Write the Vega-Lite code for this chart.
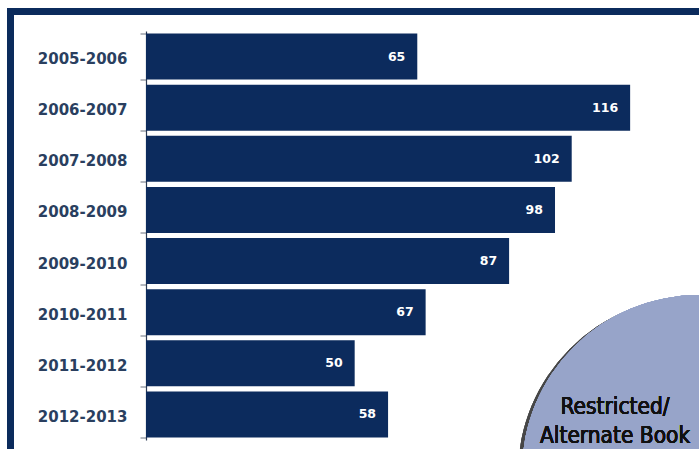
{
  "$schema": "https://vega.github.io/schema/vega-lite/v6.json",
  "width": 710,
  "height": 460,
  "autosize": {"type": "none"},
  "padding": {"left": 10.5, "top": 11.5, "right": 0, "bottom": 0},
  "background": "white",
  "config": {"view": {"stroke": "#0b2b5c", "strokeWidth": 7, "fill": "white"}},
  "data": {
    "values": [
      {"season": "2005-2006", "count": 65},
      {"season": "2006-2007", "count": 116},
      {"season": "2007-2008", "count": 102},
      {"season": "2008-2009", "count": 98},
      {"season": "2009-2010", "count": 87},
      {"season": "2010-2011", "count": 67},
      {"season": "2011-2012", "count": 50},
      {"season": "2012-2013", "count": 58}
    ]
  },
  "encoding": {
    "y": {
      "field": "season",
      "type": "nominal",
      "sort": null,
      "scale": {"range": [19.5, 428.5], "paddingInner": 0.1, "paddingOuter": 0.05},
      "axis": {
        "title": null,
        "offset": -135.5,
        "domainColor": "#2b3a52",
        "domainWidth": 1.2,
        "tickColor": "#6b7280",
        "tickSize": 6,
        "tickBand": "extent",
        "labelFont": "DejaVu Sans",
        "labelFontWeight": "bold",
        "labelFontSize": 15,
        "labelColor": "#2a3f5f",
        "labelPadding": 13,
        "labelOffset": 2
      }
    },
    "x": {
      "field": "count",
      "type": "quantitative",
      "scale": {"domain": [0, 132.5], "range": [135.5, 688.5], "nice": false},
      "axis": null
    }
  },
  "layer": [
    {"mark": {"type": "bar", "color": "#0c2b5d"}},
    {
      "mark": {"type": "text", "align": "right", "baseline": "middle", "dx": -12, "color": "white", "font": "DejaVu Sans", "fontWeight": "bold", "fontSize": 12.5},
      "encoding": {"text": {"field": "count", "type": "quantitative"}}
    },
    {
      "mark": {"type": "circle", "color": "#444444", "opacity": 0.45, "size": 125316, "xOffset": -4, "yOffset": 59.6},
      "encoding": {
        "x": {"datum": 132.5, "type": "quantitative"},
        "y": {"datum": "2012-2013", "type": "nominal"}
      }
    },
    {
      "mark": {"type": "circle", "color": "#97a4c9", "opacity": 1, "size": 125316, "yOffset": 57.6},
      "encoding": {
        "x": {"datum": 132.5, "type": "quantitative"},
        "y": {"datum": "2012-2013", "type": "nominal"}
      }
    },
    {
      "mark": {"type": "text", "align": "center", "baseline": "alphabetic", "yOffset": 0, "lineHeight": 29, "font": "DejaVu Sans Condensed, DejaVu Sans", "fontStretch": "condensed", "fontSize": 22.5, "color": "#111111"},
      "encoding": {
        "x": {"datum": 112.4, "type": "quantitative"},
        "y": {"datum": "2012-2013", "type": "nominal"},
        "text": {"value": ["Restricted/", "Alternate Book"]}
      }
    }
  ]
}
